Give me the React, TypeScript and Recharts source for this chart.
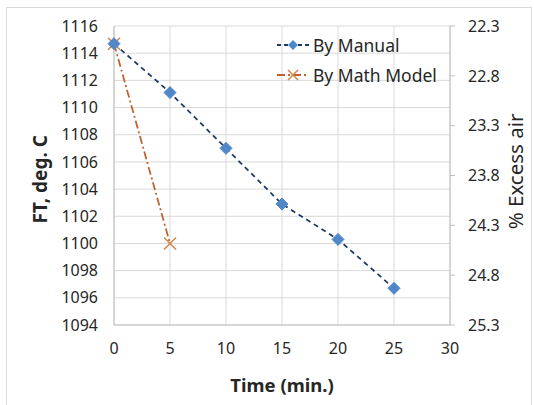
import { LineChart, Line, XAxis, YAxis, CartesianGrid, Legend } from 'recharts'

const times = [0, 5, 10, 15, 20, 25]
const manualFT = [1114.7, 1111.1, 1107, 1102.9, 1100.3, 1096.7]
const modelFT = [1114.7, 1100]
const xTicks = [0, 5, 10, 15, 20, 25, 30]
const ftTicks = [1094, 1096, 1098, 1100, 1102, 1104, 1106, 1108, 1110, 1112, 1114, 1116]
const airTicks = [22.3, 22.8, 23.3, 23.8, 24.3, 24.8, 25.3]

const data = times.map((t, i) => ({
  t,
  manual: manualFT[i],
  model: i < modelFT.length ? modelFT[i] : null,
}))

const font = "'Noto Sans', 'Open Sans', sans-serif"
const tick = { fill: '#262626', fontSize: 16, fontFamily: font }

const Diamond = (props: any) => {
  const { cx, cy } = props
  if (cx == null || cy == null) return null
  return <path d={`M${cx},${cy - 6} L${cx + 6},${cy} L${cx},${cy + 6} L${cx - 6},${cy} Z`} fill="#4f87c9" stroke="#4f87c9" />
}

const Cross = (props: any) => {
  const { cx, cy } = props
  if (cx == null || cy == null) return null
  return (
    <path d={`M${cx - 6},${cy - 6} L${cx + 6},${cy + 6} M${cx - 6},${cy + 6} L${cx + 6},${cy - 6}`} stroke="#d4844a" strokeWidth={1.5} fill="none" />
  )
}

const legendItems = [
  { label: 'By Manual', color: '#1f3864', dash: '4 3', marker: 'diamond' },
  { label: 'By Math Model', color: '#c0612b', dash: '8 3 2 3', marker: 'cross' },
]

const LegendBox = () => (
  <div style={{ fontFamily: font, fontSize: 17.5, color: '#262626', lineHeight: '30px' }}>
    {legendItems.map((it) => (
      <div key={it.label} style={{ display: 'flex', alignItems: 'center' }}>
        <svg width={34} height={14} style={{ marginRight: 3 }}>
          <line x1={1} y1={7} x2={33} y2={7} stroke={it.color} strokeWidth={2} strokeDasharray={it.dash} />
          {it.marker === 'diamond' ? (
            <path d="M17,2 L22,7 L17,12 L12,7 Z" fill="#4f87c9" />
          ) : (
            <path d="M12,2 L22,12 M12,12 L22,2" stroke="#d4844a" strokeWidth={1.5} />
          )}
        </svg>
        <span>{it.label}</span>
      </div>
    ))}
  </div>
)

export default function App() {
  return (
    <div style={{ position: 'absolute', left: 0, top: 0, width: 534, height: 405, background: '#fff' }}>
      <div style={{ position: 'absolute', left: 6, top: 7, width: 526, height: 420, border: '1px solid #d9d9d9', boxSizing: 'border-box' }} />
      <LineChart width={534} height={405} data={data} margin={{ top: 26, right: 18, left: 30, bottom: 0 }}>
        <CartesianGrid yAxisId="ft" stroke="#d9d9d9" />
        <XAxis
          dataKey="t"
          type="number"
          domain={[0, 30]}
          ticks={xTicks}
          tick={tick}
          tickLine={false}
          axisLine={{ stroke: '#bfbfbf' }}
          tickMargin={12}
          height={80}
          label={{ value: 'Time (min.)', position: 'insideBottom', offset: 13, fill: '#262626', fontSize: 18.5, fontWeight: 'bold', fontFamily: font }}
        />
        <YAxis
          yAxisId="ft"
          domain={[1094, 1116]}
          ticks={ftTicks}
          interval={0}
          tick={tick}
          tickLine={false}
          axisLine={{ stroke: '#bfbfbf' }}
          tickMargin={10}
          width={84}
          label={{ value: 'FT, deg. C', angle: -90, position: 'insideLeft', offset: 10, dy: 48, fill: '#262626', fontSize: 19, fontWeight: 'bold', fontFamily: font }}
        />
        <YAxis
          yAxisId="air"
          orientation="right"
          reversed
          type="number"
          allowDataOverflow
          domain={[22.3, 25.3]}
          ticks={airTicks}
          interval={0}
          tick={{ ...tick, fontSize: 16 }}
          tickLine={{ stroke: '#bfbfbf' }}
          tickSize={5}
          tickMargin={13}
          axisLine={{ stroke: '#bfbfbf' }}
          width={66}
          label={{ value: '% Excess air', angle: -90, position: 'insideRight', offset: 0, dy: -62, fill: '#262626', fontSize: 20.5, fontFamily: font }}
        />
        <Legend
          layout="vertical"
          verticalAlign="middle"
          align="center"
          content={<LegendBox />}
          wrapperStyle={{ top: 30, left: 276, width: 180 }}
        />
        <Line
          yAxisId="ft"
          dataKey="model"
          stroke="#c0612b"
          strokeWidth={1.75}
          strokeDasharray="8 3 2 3"
          dot={<Cross />}
          isAnimationActive={false}
          connectNulls={false}
        />
        <Line
          yAxisId="ft"
          dataKey="manual"
          stroke="#1f3864"
          strokeWidth={1.75}
          strokeDasharray="5 4"
          dot={<Diamond />}
          isAnimationActive={false}
        />
      </LineChart>
    </div>
  )
}
